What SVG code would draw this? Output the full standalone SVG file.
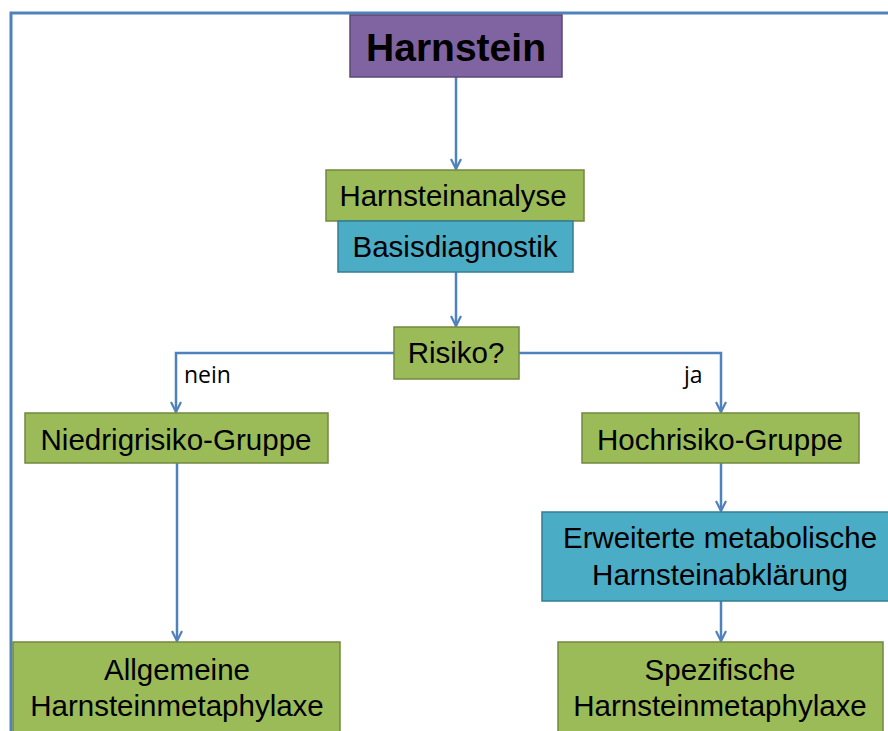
<svg xmlns="http://www.w3.org/2000/svg" width="888" height="731" viewBox="0 0 888 731">
<defs>
<style>
.frame{fill:none;stroke:#4F81BD;stroke-width:3}
.g{fill:#9BBB59;stroke:#71893F;stroke-width:1.5}
.b{fill:#4BACC6;stroke:#357D91;stroke-width:1.5}
.p{fill:#8064A2;stroke:#5C4776;stroke-width:1.5}
.t{font-family:"Liberation Sans",Arial,sans-serif;font-size:29.5px;fill:#000;text-anchor:middle}
.tb{font-family:"Liberation Sans",Arial,sans-serif;font-size:39px;font-weight:bold;fill:#000;text-anchor:middle}
.lbl{font-family:"Open Sans","DejaVu Sans",sans-serif;font-size:23px;fill:#000}
.c{fill:none;stroke:#4F81BD;stroke-width:2.5}
</style>
<marker id="arr" viewBox="0 0 12 12" refX="11" refY="6" markerWidth="12" markerHeight="12" markerUnits="userSpaceOnUse" orient="auto">
<polyline points="1,1 11,6 1,11" fill="none" stroke="#4F81BD" stroke-width="2.2"/>
</marker>
</defs>
<rect width="888" height="731" fill="#fff"/>
<path class="frame" d="M11,731 V13 H888"/>
<g id="connectors">
<path class="c" d="M456,77 V169" marker-end="url(#arr)"/>
<path class="c" d="M456,272 V326" marker-end="url(#arr)"/>
<path class="c" d="M394,353 H176 V412" marker-end="url(#arr)"/>
<path class="c" d="M519,353 H721 V412" marker-end="url(#arr)"/>
<path class="c" d="M177,463 V641" marker-end="url(#arr)"/>
<path class="c" d="M721,463 V511" marker-end="url(#arr)"/>
<path class="c" d="M721,601 V641" marker-end="url(#arr)"/>
<text class="lbl" x="184" y="383">nein</text>
<text class="lbl" x="684" y="383">ja</text>
</g>
<g id="harnstein">
<rect class="p" x="350" y="15" width="212" height="62"/>
<text class="tb" x="456" y="61" textLength="180" lengthAdjust="spacingAndGlyphs">Harnstein</text>
</g>
<g id="harnsteinanalyse">
<rect class="g" x="326" y="170" width="258" height="51"/>
<text class="t" x="453" y="206" textLength="227" lengthAdjust="spacingAndGlyphs">Harnsteinanalyse</text>
</g>
<g id="basisdiagnostik">
<rect class="b" x="338" y="221" width="235" height="51"/>
<text class="t" x="455" y="257">Basisdiagnostik</text>
</g>
<g id="risiko">
<rect class="g" x="394" y="327" width="125" height="52"/>
<text class="t" x="456" y="363">Risiko?</text>
</g>
<g id="niedrigrisiko">
<rect class="g" x="25" y="413" width="303" height="50"/>
<text class="t" x="176" y="450" textLength="271" lengthAdjust="spacingAndGlyphs">Niedrigrisiko-Gruppe</text>
</g>
<g id="hochrisiko">
<rect class="g" x="582" y="413" width="277" height="50"/>
<text class="t" x="720" y="450">Hochrisiko-Gruppe</text>
</g>
<g id="erweiterte">
<rect class="b" x="542" y="512" width="350" height="89"/>
<text class="t" x="720" y="548" textLength="314" lengthAdjust="spacingAndGlyphs">Erweiterte metabolische</text>
<text class="t" x="720" y="585">Harnsteinabklärung</text>
</g>
<g id="allgemeine">
<rect class="g" x="13" y="642" width="327" height="95"/>
<text class="t" x="177" y="680">Allgemeine</text>
<text class="t" x="177" y="716">Harnsteinmetaphylaxe</text>
</g>
<g id="spezifische">
<rect class="g" x="558" y="642" width="325" height="95"/>
<text class="t" x="720" y="680">Spezifische</text>
<text class="t" x="720" y="716">Harnsteinmetaphylaxe</text>
</g>
</svg>
